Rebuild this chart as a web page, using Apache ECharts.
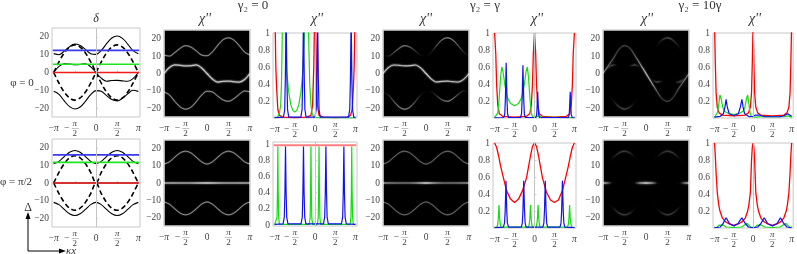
<!DOCTYPE html>
<html><head><meta charset="utf-8">
<style>html,body{margin:0;padding:0;background:#fff}#c{width:797px;height:254px}</style>
<script src="https://cdn.jsdelivr.net/npm/echarts@6/dist/echarts.min.js"></script>
</head><body><div id="c"></div>
<script>
// ---------- tick labels ----------
const xTickValues=[-1,-0.5,0,0.5,1];
const yTickValues=[-20,-10,0,10,20];
const chiTicksNoZero=[0.2,0.4,0.6,0.8,1];
const chiTicksZero=[0,0.2,0.4,0.6,0.8,1];
// ---------- band structure, x in units of pi ----------
const kx=[-1,-.875,-.75,-.625,-.5,-.375,-.25,-.125,0,.125,.25,.375,.5,.625,.75,.875,1];
const upperPhi0=[10.6,10,12,14.5,16,15.2,13,10.6,10.2,12.4,16.2,19.4,20.5,19.2,16,12.3,10.6];
const lowerPhi0=[-10.6,-12.3,-16,-19.2,-20.5,-19.4,-16.2,-12.4,-10.2,-10.6,-13,-15.2,-16,-14.5,-12,-10,-10.6];
const midPhi0=[0,3.4,4.9,4.7,4.4,4.5,4.9,3.2,0,-3.2,-4.9,-4.5,-4.4,-4.7,-4.9,-3.4,0];
const dashAPhi0=[0,6,11,14.3,15.5,14.3,11,6,0,-6,-11,-14.3,-15.5,-14.3,-11,-6,0];
const dashBPhi0=[0,-6,-11,-14.3,-15.5,-14.3,-11,-6,0,6,11,14.3,15.5,14.3,11,6,0];
const upperPhi2=[11,12.3,15,17.5,18.5,17.5,15,12.3,11,12.3,15,17.5,18.5,17.5,15,12.3,11];
const lowerPhi2=[-11,-12.3,-15,-17.5,-18.5,-17.5,-15,-12.3,-11,-12.3,-15,-17.5,-18.5,-17.5,-15,-12.3,-11];
const midPhi2=[0,0,0,0,0,0,0,0,0,0,0,0,0,0,0,0,0];
const dashAPhi2=[0,6,11,14.3,15.5,14.3,11,6,0,6,11,14.3,15.5,14.3,11,6,0];
const dashBPhi2=[0,-6,-11,-14.3,-15.5,-14.3,-11,-6,0,-6,-11,-14.3,-15.5,-14.3,-11,-6,0];
const mainStrongPhi0=[0,4.5,9,14,16,14.5,10,5,0,-5,-10,-14.5,-16,-14,-9,-4.5,0];
// drive-line energies [delta]
const driveEdges=[-1.02,1.02];
const redPhi0=[0,0], greenPhi0=[4.6,4.6], bluePhi0=[12.4,12.4];
const redPhi2=[0,0], greenPhi2=[11.7,11.7], bluePhi2=[16,16];
// ---------- density-plot brightness along each band ----------
const flat75=[.75,.75,.75,.75,.75,.75,.75,.75,.75,.75,.75,.75,.75,.75,.75,.75,.75];
const flat60=[.5,.5,.5,.5,.55,.5,.5,.5,.5,.5,.5,.5,.55,.5,.5,.5,.5];
const midA=[.95,.95,.95,.9,.9,.9,.95,.95,.95,.95,.95,.9,.9,.9,.95,.95,.95];
const upperB=[0,.06,.3,.55,.7,.55,.3,.06,0,.12,.45,.65,.75,.65,.35,.1,0];
const lowerB=[0,.1,.35,.65,.75,.65,.45,.12,0,.06,.3,.55,.7,.55,.3,.06,0];
const midB=[.9,.85,.9,.85,.85,.85,.9,.9,1,.9,.9,.85,.85,.85,.9,.85,.9];
const upperC=[0,0,0,0,0,0,0,0,0,0,.02,.2,.3,.2,.02,0,0];
const lowerC=[0,0,.02,.2,.3,.2,.02,0,0,0,0,0,0,0,0,0,0];
const strongC=[.8,.55,.4,.26,.3,.26,.4,.65,1,.75,.4,.24,.28,.24,.4,.55,.8];
const blobC=[0,0,.3,0,0,0,.28,0,0,0,.28,0,0,0,.3,0,0];
const midD=[.75,.7,.75,.7,.7,.7,.8,.9,1,.9,.8,.7,.7,.7,.75,.7,.75];
const midE=[.75,.55,.5,.45,.45,.45,.55,.75,1,.75,.55,.45,.45,.45,.5,.55,.75];
const midF=[.95,.6,.03,0,0,0,.03,.65,1,.65,.03,0,0,0,.03,.6,.95];
const arcF=[0,0,.02,.17,.24,.17,.02,0,0,0,.02,.17,.24,.17,.02,0,0];
// ---------- chi'' curves: [x/pi, value] ----------
const lp1tRed=[[-1,1.5],[-.97,.6],[-.95,.35],[-.92,.1],[-.88,.03],[-.8,.01],[-.5,.005],[-.2,.01],[-.1,.03],[-.06,.15],[-.03,.6],[0,1.5],[.03,.6],[.06,.15],[.1,.03],[.2,.01],[.5,.005],[.8,.01],[.88,.03],[.92,.1],[.95,.35],[.97,.6],[1,1.5]];
const lp1tGreen=[[-1,.005],[-.93,.01],[-.88,.06],[-.85,.15],[-.83,.4],[-.81,1],[-.77,1.2],[-.73,1],[-.7,.55],[-.65,.3],[-.6,.16],[-.55,.09],[-.5,.07],[-.45,.09],[-.4,.16],[-.35,.3],[-.3,.55],[-.26,1],[-.21,1.2],[-.16,1],[-.13,.4],[-.1,.15],[-.07,.05],[-.03,.01],[.1,.003],[1,.001]];
const lp1tBlue=[[-1,.005],[-.78,.01],[-.75,.1],[-.735,.45],[-.715,1.2],[-.695,.45],[-.68,.1],[-.65,.01],[-.35,.01],[-.32,.1],[-.305,.45],[-.285,1.2],[-.265,.45],[-.25,.1],[-.22,.01],[0,.01],[.03,.1],[.047,.45],[.065,1.2],[.083,.45],[.1,.1],[.13,.01],[.83,.01],[.86,.1],[.877,.45],[.895,1.2],[.913,.45],[.93,.1],[.96,.01],[1,.005]];
const lp1bRed=[[-1.02,.985],[1.02,.985]];
const lp1bGreen=[[-1,.005],[-.96,.01],[-.94,.1],[-.93,.4],[-.92,.97],[-.91,.4],[-.9,.1],[-.88,.01],[-.14,.01],[-.12,.1],[-.11,.4],[-.1,.97],[-.09,.4],[-.08,.1],[-.06,.01],[.06,.01],[.08,.1],[.09,.4],[.1,.97],[.11,.4],[.12,.1],[.14,.01],[.87,.01],[.89,.1],[.9,.4],[.91,.97],[.92,.4],[.93,.1],[.95,.01],[1,.005]];
const lp1bBlue=[[-1,.01],[-.79,.015],[-.76,.1],[-.745,.4],[-.73,.97],[-.715,.4],[-.7,.1],[-.67,.015],[-.345,.015],[-.315,.1],[-.3,.4],[-.285,.97],[-.27,.4],[-.255,.1],[-.225,.015],[.21,.015],[.24,.1],[.255,.4],[.27,.97],[.285,.4],[.3,.1],[.33,.015],[.655,.015],[.685,.1],[.7,.4],[.715,.97],[.73,.4],[.745,.1],[.775,.015],[1,.01]];
const lp2tRed=[[-1,1],[-.97,.75],[-.95,.4],[-.92,.15],[-.88,.05],[-.8,.02],[-.5,.01],[-.2,.02],[-.12,.05],[-.08,.15],[-.05,.4],[-.03,.75],[0,1],[.03,.75],[.05,.4],[.08,.15],[.12,.05],[.2,.02],[.5,.01],[.8,.02],[.88,.05],[.92,.15],[.95,.4],[.97,.75],[1,1]];
const lp2tGreen=[[-1,.005],[-.95,.015],[-.92,.06],[-.89,.2],[-.85,.48],[-.82,.6],[-.79,.55],[-.74,.38],[-.68,.24],[-.6,.17],[-.5,.145],[-.4,.17],[-.32,.24],[-.26,.38],[-.21,.55],[-.18,.6],[-.15,.48],[-.11,.2],[-.08,.06],[-.05,.015],[.03,.01],[.1,.025],[.16,.01],[.85,.005],[.9,.025],[.95,.005],[1,.003]];
const lp2tBlue=[[-1,.003],[-.77,.006],[-.745,.05],[-.73,.22],[-.71,.65],[-.69,.22],[-.675,.05],[-.65,.006],[-.35,.006],[-.325,.05],[-.31,.22],[-.29,.62],[-.27,.22],[-.255,.05],[-.23,.006],[.03,.006],[.055,.04],[.065,.13],[.08,.31],[.095,.13],[.105,.04],[.13,.006],[.845,.006],[.87,.04],[.88,.13],[.895,.31],[.91,.13],[.92,.04],[.945,.006],[1,.003]];
const lp2bRed=[[-1,1],[-.95,.95],[-.9,.85],[-.85,.73],[-.8,.63],[-.7,.44],[-.6,.34],[-.5,.3],[-.4,.34],[-.3,.44],[-.2,.59],[-.15,.72],[-.1,.85],[-.05,.96],[0,1],[.05,.96],[.1,.85],[.15,.72],[.2,.59],[.3,.42],[.4,.33],[.5,.3],[.6,.33],[.7,.44],[.8,.63],[.85,.73],[.9,.85],[.95,.95],[1,1]];
const lp2bGreen=[[-1,.005],[-.94,.01],[-.92,.05],[-.905,.12],[-.89,.27],[-.875,.12],[-.86,.05],[-.84,.01],[-.15,.01],[-.13,.05],[-.115,.12],[-.1,.27],[-.085,.12],[-.07,.05],[-.05,.01],[.04,.01],[.06,.05],[.075,.12],[.09,.27],[.105,.12],[.12,.05],[.14,.01],[.83,.01],[.85,.05],[.865,.12],[.88,.27],[.895,.12],[.91,.05],[.93,.01],[1,.005]];
const lp2bBlue=[[-1,.005],[-.78,.01],[-.75,.06],[-.735,.2],[-.715,.555],[-.695,.2],[-.68,.06],[-.65,.01],[-.33,.01],[-.305,.06],[-.29,.2],[-.27,.555],[-.25,.2],[-.235,.06],[-.21,.01],[.21,.01],[.235,.06],[.25,.2],[.27,.555],[.29,.2],[.305,.06],[.33,.01],[.64,.01],[.665,.06],[.68,.2],[.7,.555],[.72,.2],[.735,.06],[.76,.01],[1,.005]];
const lp3tRed=[[-1,1.1],[-.98,.65],[-.96,.3],[-.93,.13],[-.88,.06],[-.8,.035],[-.5,.025],[-.2,.035],[-.12,.06],[-.07,.13],[-.04,.3],[-.02,.65],[0,1.1],[.02,.65],[.04,.3],[.07,.13],[.12,.06],[.2,.035],[.5,.025],[.8,.035],[.88,.06],[.93,.13],[.96,.3],[.98,.65],[1,1.1]];
const lp3tGreen=[[-1,.005],[-.95,.02],[-.92,.07],[-.89,.17],[-.86,.27],[-.83,.23],[-.79,.13],[-.74,.08],[-.65,.055],[-.5,.04],[-.35,.055],[-.26,.08],[-.21,.13],[-.17,.23],[-.14,.27],[-.11,.17],[-.08,.07],[-.05,.02],[.02,.01],[.2,.015],[.5,.015],[.8,.015],[.92,.025],[1,.01]];
const lp3tBlue=[[-1,.01],[-.85,.02],[-.77,.05],[-.73,.13],[-.7,.22],[-.67,.13],[-.62,.05],[-.5,.03],[-.38,.05],[-.33,.13],[-.29,.22],[-.26,.13],[-.22,.05],[-.1,.015],[0,.02],[.06,.035],[.11,.05],[.17,.035],[.3,.015],[.7,.015],[.82,.03],[.9,.05],[.95,.035],[1,.02]];
const lp3bRed=[[-1,1],[-.98,.85],[-.96,.65],[-.93,.42],[-.89,.27],[-.86,.2],[-.8,.12],[-.72,.075],[-.65,.055],[-.5,.03],[-.35,.055],[-.28,.075],[-.2,.12],[-.14,.2],[-.11,.27],[-.07,.42],[-.04,.8],[-.02,.95],[0,1],[.02,.95],[.04,.8],[.07,.42],[.11,.27],[.14,.2],[.2,.12],[.28,.075],[.35,.055],[.5,.03],[.65,.055],[.72,.075],[.8,.12],[.86,.2],[.89,.27],[.93,.42],[.96,.65],[.98,.85],[1,1]];
const lp3bGreen=[[-1,.003],[-.93,.01],[-.88,.035],[-.83,.055],[-.78,.035],[-.7,.012],[-.5,.006],[-.3,.012],[-.22,.035],[-.16,.055],[-.11,.035],[-.05,.008],[0,.003],[.05,.008],[.11,.035],[.16,.055],[.22,.035],[.3,.012],[.5,.006],[.7,.012],[.78,.035],[.85,.055],[.9,.035],[.95,.01],[1,.003]];
const lp3bBlue=[[-1,.003],[-.85,.012],[-.78,.05],[-.74,.09],[-.7,.12],[-.66,.09],[-.61,.05],[-.5,.025],[-.39,.05],[-.34,.09],[-.29,.12],[-.25,.09],[-.2,.05],[-.12,.012],[0,.003],[.12,.012],[.2,.05],[.25,.09],[.29,.12],[.33,.09],[.38,.05],[.5,.025],[.62,.05],[.67,.09],[.71,.12],[.75,.09],[.8,.05],[.88,.012],[1,.003]];

// ---------- helpers ----------
const FONT='Liberation Serif';
const textCol='#444', frameCol='#c8c8c8';
const grids=[], xAxes=[], yAxes=[], series=[];
const fracRich={
  top:{fontFamily:FONT,fontSize:9,lineHeight:7,fontStyle:'italic',color:textCol},
  bar:{fontFamily:FONT,fontSize:7,lineHeight:3,color:textCol},
  num:{fontFamily:FONT,fontSize:9,lineHeight:8,color:textCol},
  pi:{fontFamily:FONT,fontSize:9.5,lineHeight:3,fontStyle:'italic',color:textCol},
  zero:{fontFamily:FONT,fontSize:9.5,lineHeight:3,color:textCol},
  min:{fontFamily:FONT,fontSize:9.5,lineHeight:3,color:textCol},
  pad:{fontFamily:FONT,width:7,lineHeight:3}
};
function xLabel(v){
  if(v===-1) return '{top| }\n{min|−}{pi|π}\n{num| }';
  if(v===1) return '{top| }\n{pi|π}\n{num| }';
  if(v===0) return '{top| }\n{zero|0}\n{num| }';
  if(v===-.5) return '{top|π}\n{min|− }{bar|—}{pad|}\n{num|2}';
  return '{top|π}\n{bar|—}\n{num|2}';
}
function yLabel(v){ return String(v).replace('-','−'); }
function addGrid(rect,xr,yr,yVals,opt){
  const i=grids.length;
  grids.push(Object.assign({left:rect[0],top:rect[1],width:rect[2],height:rect[3],show:true,borderColor:frameCol,borderWidth:1,containLabel:false},opt.grid||{}));
  xAxes.push({gridIndex:i,type:'value',min:xr[0],max:xr[1],position:'bottom',
    axisLine:{show:false},splitLine:{show:false},
    axisTick:{show:!opt.dark,inside:true,length:2,lineStyle:{color:'#b0b0b0',width:.6},customValues:xTickValues},
    axisLabel:{customValues:xTickValues,formatter:xLabel,rich:fracRich,fontFamily:FONT,margin:3,hideOverlap:false,showMinLabel:true,showMaxLabel:true}});
  yAxes.push({gridIndex:i,type:'value',min:yr[0],max:yr[1],
    axisLine:{show:false},splitLine:{show:false},
    axisTick:{show:!opt.dark,inside:true,length:2,lineStyle:{color:'#b0b0b0',width:.6},customValues:yVals},
    axisLabel:{customValues:yVals,formatter:yLabel,fontFamily:FONT,fontSize:9.5,color:textCol,margin:3,hideOverlap:false,showMinLabel:true,showMaxLabel:true}});
  return i;
}
function line(i,data,style,extra){
  series.push(Object.assign({type:'line',xAxisIndex:i,yAxisIndex:i,data,showSymbol:false,symbol:'none',animation:false,silent:true,lineStyle:style},extra||{}));
}
const zip=(xs,ys)=>xs.map((x,k)=>[x,ys[k]]);
const zeroAxis={silent:true,symbol:'none',animation:false,label:{show:false},lineStyle:{color:'#c4c4c4',width:1,type:'solid'},data:[{xAxis:0}]};

function bandPanel(rect,solids,dashes,red,green,blue){
  const i=addGrid(rect,[-1.04,1.04],[-25,25],yTickValues,{});
  dashes.forEach(d=>line(i,zip(kx,d),{color:'#000',width:1.6,type:[5,3]},{smooth:.35}));
  solids.forEach((s,k)=>line(i,zip(kx,s),{color:'#000',width:1.1},Object.assign({smooth:.35},k===0?{markLine:zeroAxis,z:1}:{})));
  line(i,zip(driveEdges,red),{color:'#f21a1a',width:1.6});
  line(i,zip(driveEdges,green),{color:'#1ee61e',width:1.6});
  line(i,zip(driveEdges,blue),{color:'#3a3aee',width:1.7});
}
function densityPanel(rect,bands){
  const i=addGrid(rect,[-1,1],[-25,25],yTickValues,{dark:true,grid:{backgroundColor:'#000',borderColor:'#d4d4d4',borderWidth:1.6}});
  bands.forEach(b=>{
    [[b.w*2.8,.1],[b.w*1.7,.22],[b.w*.8,.75]].forEach(p=>{
      const stops=kx.map((x,k)=>({offset:(x+1)/2,color:'rgba(255,255,255,'+(Math.min(1,b.level[k])*p[1]).toFixed(3)+')'}));
      line(i,zip(kx,b.y),{width:p[0],color:new echarts.graphic.LinearGradient(0,0,1,0,stops)},{smooth:.35,clip:true});
    });
  });
}
function chiPanel(rect,yr,ticks,red,green,blue,redStyle){
  const i=addGrid(rect,[-1.04,1.04],yr,ticks,{});
  line(i,red,Object.assign({color:'#f00',width:1.3},redStyle||{}),{markLine:zeroAxis});
  line(i,green,{color:'#0fe00f',width:1.2});
  line(i,blue,{color:'#1212ee',width:1.2});
}

// ---------- panels ----------
bandPanel([52,28,88,89],[upperPhi0,midPhi0,lowerPhi0],[dashAPhi0,dashBPhi0],redPhi0,greenPhi0,bluePhi0);
densityPanel([164,30,86,87],[{y:upperPhi0,level:flat75,w:.9},{y:lowerPhi0,level:flat75,w:.9},{y:midPhi0,level:midA,w:1.5}]);
chiPanel([273,33,84,85],[0,1],chiTicksNoZero,lp1tRed,lp1tGreen,lp1tBlue);
densityPanel([383,30,86,87],[{y:upperPhi0,level:upperB,w:.9},{y:lowerPhi0,level:lowerB,w:.9},{y:midPhi0,level:midB,w:1.4}]);
chiPanel([493,33,83,85],[0,1],chiTicksNoZero,lp2tRed,lp2tGreen,lp2tBlue);
densityPanel([603,30,86,87],[{y:upperPhi0,level:upperC,w:1.4},{y:lowerPhi0,level:lowerC,w:1.4},{y:midPhi0,level:blobC,w:1.6},{y:mainStrongPhi0,level:strongC,w:1.2}]);
chiPanel([713,33,82,85],[0,1],chiTicksNoZero,lp3tRed,lp3tGreen,lp3tBlue);

bandPanel([52,139,88,88],[upperPhi2,midPhi2,lowerPhi2],[dashAPhi2,dashBPhi2],redPhi2,greenPhi2,bluePhi2);
densityPanel([164,140,86,86],[{y:upperPhi2,level:flat75,w:.9},{y:lowerPhi2,level:flat75,w:.9},{y:midPhi2,level:midD,w:1.6}]);
chiPanel([273,142,84,84],[-.01,1.025],chiTicksZero,lp1bRed,lp1bGreen,lp1bBlue,{color:'rgba(255,40,40,.6)',width:2});
densityPanel([383,140,86,86],[{y:upperPhi2,level:flat60,w:.9},{y:lowerPhi2,level:flat60,w:.9},{y:midPhi2,level:midE,w:1.6}]);
chiPanel([493,143,83,85],[0,1],chiTicksNoZero,lp2bRed,lp2bGreen,lp2bBlue);
densityPanel([603,140,86,86],[{y:upperPhi2,level:arcF,w:1.6},{y:lowerPhi2,level:arcF,w:1.6},{y:midPhi2,level:midF,w:1.8}]);
chiPanel([713,143,82,85],[0,1],chiTicksNoZero,lp3bRed,lp3bGreen,lp3bBlue);

// ---------- text and the small axis key ----------
const label=(x,y,t,size,style)=>({type:'text',x,y,silent:true,style:{text:t,font:(style==='italic'?'italic ':'')+size+'px "'+FONT+'"',fill:'#333',align:'center',verticalAlign:'middle'}});
const titles=[[205,19],[317,19],[426,19],[537,19],[647,19],[755,19]].map(p=>label(p[0],p[1],"χ''",14,'italic'));
const graphic=[
  label(96,19,'δ',12,'italic'),...titles,
  label(253,6,'γ₂ = 0',13),label(485,6,'γ₂ = γ',13),label(700,6,'γ₂ = 10γ',13),
  label(22,83,'φ = 0',11),label(16,182,'φ = π/2',11),
  label(28,208,'Δ',12),label(71,251,'κx',11,'italic'),
  {type:'polyline',silent:true,shape:{points:[[28,214],[28,251],[60,251]]},style:{stroke:'#000',lineWidth:1,fill:null}},
  {type:'polygon',silent:true,shape:{points:[[28,212],[25.5,219],[30.5,219]]},style:{fill:'#000'}},
  {type:'polygon',silent:true,shape:{points:[[66,251],[59,248.5],[59,253.5]]},style:{fill:'#000'}}
];
const chart=echarts.init(document.getElementById('c'),null,{renderer:'canvas'});
chart.setOption({animation:false,backgroundColor:'#fff',textStyle:{fontFamily:FONT},grid:grids,xAxis:xAxes,yAxis:yAxes,series,graphic});
</script></body></html>
